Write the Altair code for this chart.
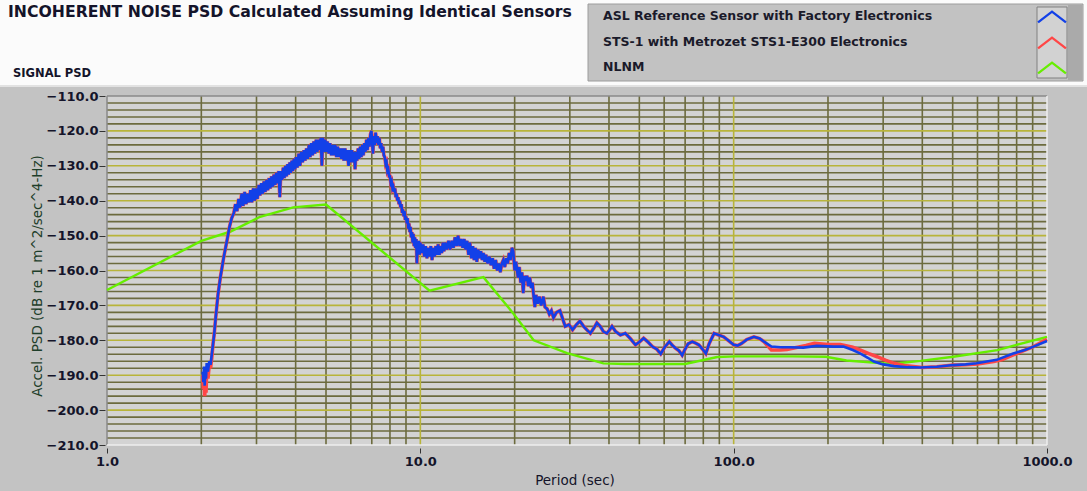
import altair as alt
import pandas as pd

# ---------------- text ----------------
TITLE = "INCOHERENT NOISE PSD Calculated Assuming Identical Sensors"
SUBTITLE = "SIGNAL PSD"
X_TITLE = "Period (sec)"
Y_TITLE = "Accel. PSD (dB re 1 m^2/sec^4-Hz)"
SERIES = [
    "ASL Reference Sensor with Factory Electronics",
    "STS-1 with Metrozet STS1-E300 Electronics",
    "NLNM",
]
COLORS = ["#1240e8", "#ff4646", "#66ee00"]

# ---------------- ticks / grid ----------------
X_TICKS = [1, 10, 100, 1000]
Y_TICKS = [-210, -200, -190, -180, -170, -160, -150, -140, -130, -120, -110]
X_MINOR = [2, 3, 4, 5, 6, 7, 8, 9, 20, 30, 40, 50, 60, 70, 80, 90,
           200, 300, 400, 500, 600, 700, 800, 900]
X_MAJOR = [10, 100]
Y_MAJOR = [-200, -190, -180, -170, -160, -150, -140, -130, -120]
Y_MINOR = [v for v in range(-208, -110, 2) if v % 10 != 0]

# ---------------- data (period s, dB) ----------------
# start of the two sensor curves (they differ at the lowest periods)
BLUE_START = [
    (2.02, -189.0), (2.03, -192.0), (2.04, -187.5), (2.05, -193.0), (2.06, -188.0),
    (2.07, -191.0), (2.08, -186.5), (2.10, -189.0), (2.12, -186.0), (2.14, -187.0),
    (2.16, -184.0),
]
RED_START = [
    (2.02, -190.0), (2.03, -194.0), (2.04, -191.0), (2.05, -196.0), (2.06, -192.5),
    (2.07, -195.0), (2.08, -189.0), (2.10, -191.0), (2.12, -187.0), (2.14, -188.0),
    (2.16, -185.0),
]
# middle part where both sensors read the same
COMMON_MID = [
    (2.18, -181.0), (2.20, -178.0), (2.22, -174.0), (2.24, -170.5), (2.26, -167.0),
    (2.28, -164.5), (2.30, -162.0), (2.33, -159.0), (2.36, -156.0), (2.39, -153.5),
    (2.42, -151.0), (2.46, -147.5), (2.50, -145.0), (2.54, -143.5), (2.57, -141.0),
    (2.60, -143.0), (2.63, -139.5), (2.66, -142.0), (2.69, -138.0), (2.72, -141.5),
    (2.75, -137.5), (2.78, -141.0), (2.81, -138.0), (2.84, -140.5), (2.87, -137.0),
    (2.90, -140.5), (2.93, -136.5), (2.96, -140.0), (2.99, -136.5), (3.02, -139.5),
    (3.05, -135.5), (3.08, -138.5), (3.11, -135.0), (3.14, -138.0), (3.17, -134.5),
    (3.20, -137.5), (3.23, -134.0), (3.26, -137.0), (3.29, -133.5), (3.32, -136.5),
    (3.35, -133.0), (3.38, -136.0), (3.41, -132.5), (3.44, -135.5), (3.47, -132.0),
    (3.50, -135.0), (3.53, -131.5), (3.56, -139.0), (3.59, -131.5), (3.62, -134.0),
    (3.65, -130.5), (3.68, -133.5), (3.71, -130.0), (3.74, -133.0), (3.77, -129.5),
    (3.80, -132.5), (3.83, -129.0), (3.86, -132.0), (3.89, -128.5), (3.92, -131.5),
    (3.95, -128.0), (3.98, -131.0), (4.01, -127.5), (4.05, -130.5), (4.09, -126.5),
    (4.13, -130.0), (4.17, -126.0), (4.21, -129.0), (4.25, -125.5), (4.29, -128.5),
    (4.33, -125.0), (4.37, -128.0), (4.41, -124.0), (4.45, -127.5), (4.49, -123.5),
    (4.53, -127.0), (4.57, -123.0), (4.61, -126.5), (4.65, -122.5), (4.69, -126.0),
    (4.73, -122.5), (4.77, -125.5), (4.81, -122.0), (4.85, -130.0), (4.89, -122.0),
    (4.93, -126.0), (4.97, -122.5), (5.01, -126.0), (5.05, -123.0), (5.10, -126.5),
    (5.15, -123.5), (5.20, -127.0), (5.25, -124.0), (5.30, -127.0), (5.35, -124.0),
    (5.40, -127.5), (5.45, -124.5), (5.50, -127.5), (5.55, -125.0), (5.60, -128.0),
    (5.65, -125.0), (5.70, -128.5), (5.75, -125.0), (5.80, -128.5), (5.85, -125.5),
    (5.90, -130.0), (5.95, -125.5), (6.00, -129.0), (6.05, -125.5), (6.10, -129.0),
    (6.15, -126.0), (6.19, -131.0), (6.23, -126.0), (6.28, -128.5), (6.33, -125.0),
    (6.38, -128.0), (6.43, -124.5), (6.48, -127.5), (6.53, -124.0), (6.58, -127.0),
    (6.63, -123.5), (6.68, -126.0), (6.73, -122.5), (6.78, -125.5), (6.83, -122.0),
    (6.88, -124.5), (6.93, -121.0), (6.98, -120.0), (7.02, -123.5), (7.06, -126.5),
    (7.10, -121.5), (7.15, -124.0), (7.20, -120.5), (7.25, -123.5), (7.30, -121.5),
    (7.35, -124.0), (7.40, -122.0), (7.45, -125.0), (7.50, -123.5), (7.55, -126.0),
    (7.60, -124.5), (7.65, -127.0), (7.70, -127.5), (7.75, -129.5), (7.80, -129.0),
    (7.85, -131.5), (7.90, -131.0), (7.95, -133.0), (8.00, -133.0), (8.05, -135.0),
    (8.10, -134.5), (8.15, -136.5), (8.20, -136.0), (8.25, -137.5), (8.30, -136.5),
    (8.35, -139.0), (8.40, -138.0), (8.45, -140.0), (8.50, -139.0), (8.55, -141.0),
    (8.60, -140.0), (8.65, -142.0), (8.70, -141.0), (8.75, -143.5), (8.80, -142.5),
    (8.85, -144.5), (8.90, -143.0), (8.95, -145.5), (9.00, -144.5), (9.05, -146.5),
    (9.10, -145.0), (9.15, -148.0), (9.20, -146.5), (9.25, -149.0), (9.30, -147.5),
    (9.35, -150.5), (9.40, -149.0), (9.45, -152.0), (9.50, -149.5), (9.55, -153.0),
    (9.60, -150.5), (9.65, -153.5), (9.70, -151.0), (9.75, -158.0), (9.80, -152.0),
    (9.85, -155.0), (9.90, -151.5), (9.95, -155.5), (10.0, -152.0), (10.1, -155.0),
    (10.2, -152.5), (10.3, -156.0), (10.4, -153.0), (10.5, -156.5), (10.6, -153.5),
    (10.7, -156.0), (10.8, -153.0), (10.9, -157.0), (11.0, -153.5), (11.1, -156.0),
    (11.2, -153.0), (11.3, -155.5), (11.4, -152.5), (11.5, -155.5), (11.6, -153.0),
    (11.7, -155.0), (11.8, -152.0), (11.9, -154.5), (12.0, -152.0), (12.15, -154.0),
    (12.3, -151.5), (12.45, -154.0), (12.6, -151.5), (12.75, -153.5), (12.9, -150.5),
    (13.05, -153.0), (13.2, -150.0), (13.35, -153.0), (13.5, -151.0), (13.65, -153.5),
    (13.8, -151.0), (13.95, -154.0), (14.1, -151.5), (14.25, -155.5), (14.4, -152.0),
    (14.55, -156.5), (14.7, -153.0), (14.85, -157.0), (15.0, -153.5), (15.15, -157.5),
    (15.3, -154.0), (15.45, -156.5), (15.6, -154.5), (15.75, -157.0), (15.9, -155.0),
    (16.05, -157.5), (16.2, -155.5), (16.4, -158.0), (16.6, -156.0), (16.8, -158.5),
    (17.0, -156.5), (17.2, -159.5), (17.4, -157.0), (17.6, -160.0), (17.8, -158.0),
    (18.0, -160.5), (18.2, -158.0), (18.4, -157.0), (18.6, -159.0), (18.8, -156.5),
    (19.0, -158.0), (19.2, -155.0), (19.4, -157.0), (19.6, -153.5), (19.8, -154.5),
    (20.0, -160.0), (20.2, -157.5), (20.5, -162.0), (20.7, -159.0), (20.9, -163.5),
    (21.1, -160.5), (21.3, -166.5), (21.5, -161.5), (21.7, -163.0), (21.9, -161.5),
    (22.1, -164.5), (22.35, -162.0), (22.6, -165.0), (22.8, -163.5), (23.0, -167.5),
    (23.2, -170.5), (23.4, -167.0), (23.7, -169.5), (24.0, -167.5), (24.3, -170.0),
    (24.7, -167.5), (25.0, -170.5), (25.4, -171.0), (25.8, -172.5), (26.2, -171.5),
    (26.6, -173.5), (27.2, -172.0), (27.9, -171.5), (28.5, -174.0), (29.0, -176.0),
    (29.8, -175.5), (30.6, -177.0), (31.5, -175.5), (32.3, -174.5), (33.2, -176.0),
    (34.0, -177.0), (34.9, -178.0), (35.8, -176.5), (36.6, -175.0), (37.5, -176.0),
    (38.4, -177.5), (39.4, -178.0), (40.2, -177.0), (40.9, -176.0), (42.0, -177.5),
    (43.5, -178.5), (45.1, -178.0), (46.8, -179.5), (48.6, -181.3), (50.0, -180.5),
    (51.6, -179.4), (53.3, -180.5), (55.0, -181.8), (56.8, -182.5), (58.5, -183.9),
    (60.2, -182.0), (62.3, -180.4), (63.8, -181.5), (65.3, -182.3), (66.9, -183.0),
    (68.5, -184.3), (70.0, -182.5), (71.5, -181.0), (73.8, -180.4), (75.6, -180.8),
    (77.4, -181.3), (79.5, -182.5), (81.5, -183.8), (83.5, -181.0), (86.6, -178.0),
    (89.5, -178.5), (92.9, -179.0), (96.0, -180.0), (100.0, -181.3), (103.0, -181.5),
    (106.0, -180.9), (110.0, -179.8), (116.0, -179.0), (121.0, -179.5), (125.0, -180.4),
]
# tails, where the two sensors separate
BLUE_TAIL = [
    (132.0, -181.8), (141.0, -182.0), (150.0, -182.0), (167.0, -182.1), (184.0, -181.6),
    (208.0, -181.8), (224.0, -181.8), (240.0, -182.8), (254.0, -183.8), (268.0, -185.0),
    (280.0, -186.1), (300.0, -186.9), (325.0, -187.4), (360.0, -187.7), (395.0, -187.8),
    (445.0, -187.6), (502.0, -187.1), (550.0, -186.9), (596.0, -186.6), (691.0, -185.6),
    (780.0, -183.8), (850.0, -182.8), (906.0, -181.8), (1000.0, -180.2),
]
RED_TAIL = [
    (132.0, -182.8), (141.0, -182.8), (148.0, -182.6), (160.0, -182.0), (170.0, -181.5),
    (181.0, -180.9), (200.0, -181.2), (219.0, -181.2), (240.0, -182.0), (254.0, -182.8),
    (270.0, -183.8), (287.0, -184.7), (305.0, -185.7), (325.0, -186.6), (350.0, -187.2),
    (375.0, -187.5), (400.0, -187.8), (445.0, -187.6), (502.0, -187.1), (550.0, -187.0),
    (600.0, -186.8), (676.0, -186.1), (720.0, -185.5), (780.0, -184.2), (850.0, -182.8),
    (906.0, -181.8), (1000.0, -179.7),
]
NLNM = [
    (1.0, -165.6), (2.0, -151.5), (2.47, -148.9), (3.08, -144.6), (3.93, -141.9),
    (5.0, -141.1), (10.7, -165.8), (15.9, -161.9), (19.8, -172.3), (23.0, -180.0),
    (29.4, -183.7), (38.4, -186.6), (45.0, -186.8), (70.0, -186.8), (88.6, -184.8),
    (101.0, -184.6), (154.0, -184.6), (197.0, -184.7), (229.0, -185.8), (300.0, -186.6),
    (340.0, -186.5), (395.0, -185.9), (502.0, -184.7), (695.0, -182.8), (1000.0, -179.0),
]

# ---------------- layout ----------------
W, H = 940, 349
FONT = "DejaVu Sans"
TEXT_COLOR = "#14142a"
GRID_MINOR = "#6c6b3e"
GRID_MAJOR = "#b8b43a"
LEG_Y = [-80, -54, -29]

one = pd.DataFrame({"k": [0]})


def xenc(field="T"):
    return alt.X(
        f"{field}:Q",
        scale=alt.Scale(type="log", domain=[1, 1000], nice=False),
        axis=alt.Axis(
            values=X_TICKS, format=".1f", grid=False, domain=False,
            tickSize=5, tickColor="#333333", tickWidth=1, offset=3,
            labelPadding=2, labelFont=FONT, labelFontSize=13,
            labelFontWeight="bold", labelColor=TEXT_COLOR,
            labelFlush=False, labelOverlap=False, zindex=1,
        ),
        title=None,
    )


def yenc(field="dB"):
    return alt.Y(
        f"{field}:Q",
        scale=alt.Scale(domain=[-210, -110], nice=False, zero=False),
        axis=alt.Axis(
            values=Y_TICKS, format=".1f", grid=False, domain=False,
            tickSize=6, tickColor="#333333", tickWidth=1, offset=2,
            labelPadding=1, labelFont=FONT, labelFontSize=13,
            labelFontWeight="bold", labelColor=TEXT_COLOR,
            labelFlush=False, labelOverlap=False, zindex=1,
        ),
        title=None,
    )


def rect(x1, x2, y1, y2, fill, stroke=None, sw=1):
    kw = dict(color=fill)
    if stroke:
        kw.update(stroke=stroke, strokeWidth=sw)
    return alt.Chart(one).mark_rect(**kw).encode(
        x=alt.value(x1), x2=alt.value(x2), y=alt.value(y1), y2=alt.value(y2)
    )


def text(s, x, y, size, weight="bold", align="left", baseline="alphabetic",
         color=TEXT_COLOR, angle=0):
    return alt.Chart(one).mark_text(
        text=s, font=FONT, fontSize=size, fontWeight=weight, align=align,
        baseline=baseline, color=color, angle=angle,
    ).encode(x=alt.value(x), y=alt.value(y))


layers = []
# white title strip above the grey panel
layers.append(rect(-107, 980, -96, -11, "#fbfbfb"))
layers.append(rect(-107, 980, -11, -9, "#e2e2e2"))

# title texts
layers.append(text(TITLE, -99, -79, 15.7))
layers.append(text(SUBTITLE, -94, -19, 11.5))

# legend box
layers.append(rect(481, 976, -92, -15, "#c2c2c2", "#9c9c9c"))
layers.append(rect(961, 975, -91, -16, "#aaaaaa"))
layers.append(rect(930, 960, -89, -18, "#d2d2d2", "#808080"))
for i, name in enumerate(SERIES):
    layers.append(text(name, 496, LEG_Y[i], 12.5, baseline="middle", color="#1a1a2a"))
    layers.append(
        alt.Chart(one).mark_point(
            shape="M-1,0.38L0,-0.38L1,0.38", filled=False, size=780,
            strokeWidth=2.3, color=COLORS[i], opacity=1,
        ).encode(x=alt.value(945), y=alt.value(LEG_Y[i] + 1))
    )

# grid
gx_minor = pd.DataFrame({"T": X_MINOR})
gx_major = pd.DataFrame({"T": X_MAJOR})
gy_minor = pd.DataFrame({"dB": Y_MINOR})
gy_major = pd.DataFrame({"dB": Y_MAJOR})
layers.append(alt.Chart(gy_minor).mark_rule(color=GRID_MINOR, strokeWidth=1.6).encode(y=yenc()))
layers.append(alt.Chart(gx_minor).mark_rule(color=GRID_MINOR, strokeWidth=1.6).encode(x=xenc()))
layers.append(alt.Chart(gy_major).mark_rule(color=GRID_MAJOR, strokeWidth=1.6).encode(y=yenc()))
layers.append(alt.Chart(gx_major).mark_rule(color=GRID_MAJOR, strokeWidth=1.6).encode(x=xenc()))

# frame edges
layers.append(alt.Chart(one).mark_rule(color="#8a8a8a", strokeWidth=1.5).encode(
    x=alt.value(0), y=alt.value(0), y2=alt.value(H)))
layers.append(alt.Chart(one).mark_rule(color="#8a8a8a", strokeWidth=1.5).encode(
    x=alt.value(0), x2=alt.value(W), y=alt.value(0)))
layers.append(alt.Chart(one).mark_rule(color="#eeeeee", strokeWidth=1.5).encode(
    x=alt.value(0), x2=alt.value(W), y=alt.value(H)))
layers.append(alt.Chart(one).mark_rule(color="#eeeeee", strokeWidth=1.5).encode(
    x=alt.value(W), y=alt.value(0), y2=alt.value(H)))

# data lines (green, red, blue on top)
df_green = pd.DataFrame(NLNM, columns=["T", "dB"])
df_red = pd.DataFrame(RED_START + COMMON_MID + RED_TAIL, columns=["T", "dB"])
df_blue = pd.DataFrame(BLUE_START + COMMON_MID + BLUE_TAIL, columns=["T", "dB"])
layers.append(alt.Chart(df_green).mark_line(color=COLORS[2], strokeWidth=2.4).encode(x=xenc(), y=yenc()))
layers.append(alt.Chart(df_red).mark_line(color=COLORS[1], strokeWidth=3.6).encode(x=xenc(), y=yenc()))
layers.append(alt.Chart(df_blue).mark_line(color=COLORS[0], strokeWidth=2.6).encode(x=xenc(), y=yenc()))

# axis titles
layers.append(text(Y_TITLE, -69, 180, 13.5, weight="normal", align="center",
                   baseline="middle", color="#1e3e2a", angle=270))
layers.append(text(X_TITLE, 468, 385, 13.5, weight="normal", align="center",
                   baseline="middle", color=TEXT_COLOR))

chart = alt.layer(*layers).properties(
    width=W, height=H,
    background="#c3c3c3",
    padding={"left": 107, "top": 96, "right": 40, "bottom": 46},
    autosize=alt.AutoSizeParams(type="none"),
).configure_view(fill="#d3d3d3", stroke=None)

chart.save("out.html", embed_options={"renderer": "svg", "actions": False})
